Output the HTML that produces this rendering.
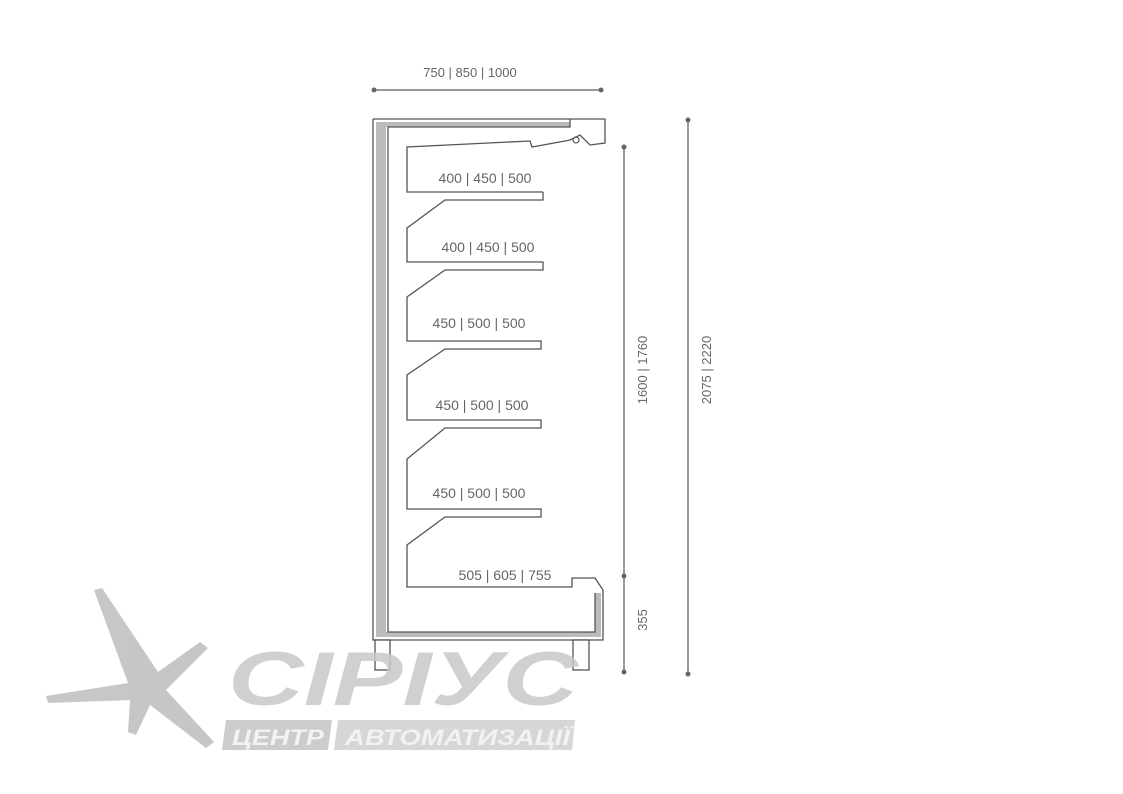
<!DOCTYPE html>
<html><head><meta charset="utf-8"><style>
html,body{margin:0;padding:0;background:#fff;width:1123px;height:794px;overflow:hidden}
svg{display:block}
text{font-family:"Liberation Sans",sans-serif;fill:#666}
</style></head><body>
<svg width="1123" height="794" viewBox="0 0 1123 794" xmlns="http://www.w3.org/2000/svg">
<!-- dimension lines -->
<g stroke="#777" stroke-width="1.5" fill="#666">
<line x1="374" y1="90" x2="601" y2="90"/>
<circle cx="374" cy="90" r="2.5" stroke="none"/><circle cx="601" cy="90" r="2.5" stroke="none"/>
<line x1="624" y1="147" x2="624" y2="672"/>
<circle cx="624" cy="147" r="2.5" stroke="none"/><circle cx="624" cy="576" r="2.5" stroke="none"/><circle cx="624" cy="672" r="2.5" stroke="none"/>
<line x1="688" y1="120" x2="688" y2="674"/>
<circle cx="688" cy="120" r="2.5" stroke="none"/><circle cx="688" cy="674" r="2.5" stroke="none"/>
</g>
<text x="470" y="77" font-size="13" text-anchor="middle">750 | 850 | 1000</text>
<text transform="translate(647,370) rotate(-90)" font-size="13" text-anchor="middle">1600 | 1760</text>
<text transform="translate(647,620) rotate(-90)" font-size="13" text-anchor="middle">355</text>
<text transform="translate(711,370) rotate(-90)" font-size="13" text-anchor="middle">2075 | 2220</text>
<!-- frame -->
<path d="M376,122 L570,122 L570,127 L386,127 L386,632 L595,632 L595,593 L601,593 L601,637 L376,637 Z" fill="#bbb"/>
<g stroke="#555" stroke-width="1.3" fill="none">
<path d="M373,119 L605,119 L605,143 L590,145 L580,135 L570,140 L565,141" />
<path d="M373,119 L373,640 L603,640 L603,590"/>
<path d="M388,127 L570,127 L570,119" />
<path d="M388,127 L388,632 L595,632 L595,593"/>
</g>
<circle cx="576" cy="140" r="3" fill="none" stroke="#555" stroke-width="1.2"/>
<!-- feet -->
<g stroke="#555" stroke-width="1.3" fill="#fff">
<rect x="375" y="640" width="15" height="30"/>
<rect x="573" y="640" width="16" height="30"/>
</g>
<!-- shelves -->
<g stroke="#555" stroke-width="1.3" fill="none">
<path d="M543,192 L543,200 L445,200 L407,228 L407,262 L543,262 L543,270 L445,270 L407,297 L407,341 L541,341 L541,349 L445,349 L407,375 L407,420 L541,420 L541,428 L445,428 L407,459 L407,509 L541,509 L541,517 L445,517 L407,545 L407,587 L572,587 L572,578 L595,578 L603,590"/>
<path d="M543,192 L407,192 L407,147 L530,141 L532,147 L565,141"/>
</g>
<g font-size="14">
<text x="485" y="183" text-anchor="middle">400 | 450 | 500</text>
<text x="488" y="252" text-anchor="middle">400 | 450 | 500</text>
<text x="479" y="328" text-anchor="middle">450 | 500 | 500</text>
<text x="482" y="410" text-anchor="middle">450 | 500 | 500</text>
<text x="479" y="498" text-anchor="middle">450 | 500 | 500</text>
<text x="505" y="580" text-anchor="middle">505 | 605 | 755</text>
</g>
<!-- watermark logo -->
<g opacity="0.85">
<path d="M94,590 L102,588 L158,672 L200,642 L208,648 L166,690 L214,742 L206,748 L150,705 L136,735 L128,732 L130,700 L48,703 L46,696 L128,683 Z" fill="#bdbdbd"/>
<text x="228" y="705" font-size="76" font-weight="bold" font-style="italic" style="fill:#c8c8c8" textLength="350" lengthAdjust="spacingAndGlyphs">CIPIУС</text>
<polygon points="226,720 332,720 328,750 222,750" fill="#c4c4c4"/>
<polygon points="338,720 575,720 572,750 334,750" fill="#cfcfcf"/>
<text x="232" y="745" font-size="22" font-style="italic" font-weight="bold" style="fill:#f0f0f0" textLength="92" lengthAdjust="spacingAndGlyphs">ЦЕНТР</text>
<text x="345" y="745" font-size="22" font-style="italic" font-weight="bold" style="fill:#f0f0f0" textLength="225" lengthAdjust="spacingAndGlyphs">АВТОМАТИЗАЦІЇ</text>
</g>
</svg>
</body></html>
